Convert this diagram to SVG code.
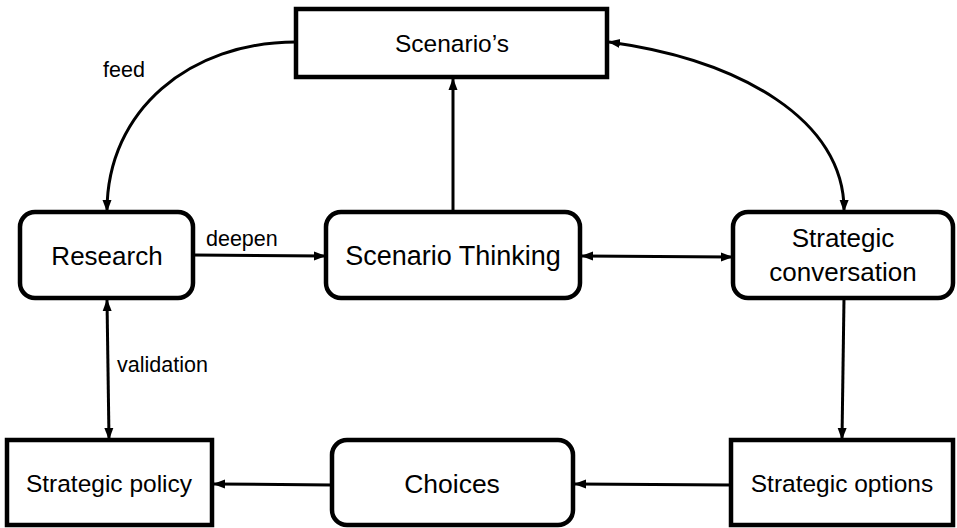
<svg xmlns="http://www.w3.org/2000/svg" width="957" height="528" viewBox="0 0 957 528">
<defs>
<style>
.box{fill:#fff;stroke:#000;stroke-width:4.5}
.t{font-family:"Liberation Sans",Arial,sans-serif;fill:#000;text-anchor:middle}
.lbl{font-family:"Liberation Sans",Arial,sans-serif;fill:#000;font-size:21.5px}
.c{fill:none;stroke:#000;stroke-width:3}
</style>
<marker id="ah" markerUnits="userSpaceOnUse" markerWidth="12" markerHeight="12" viewBox="0 0 12 12" refX="11" refY="6" orient="auto-start-reverse">
<path d="M0,1.5 L12,6 L0,10.5 Z" fill="#000"/>
</marker>
</defs>
<rect width="957" height="528" fill="#fff"/>
<g id="connectors">
<path class="c" d="M296,42 C190,42 107,110 107,211" marker-end="url(#ah)"/>
<path class="c" d="M453,212 L453,79" marker-end="url(#ah)"/>
<path class="c" d="M609,42 C740,60 845,120 844,211" marker-start="url(#ah)" marker-end="url(#ah)"/>
<path class="c" d="M193,255 L325,256" marker-end="url(#ah)"/>
<path class="c" d="M582,256 L732,257" marker-start="url(#ah)" marker-end="url(#ah)"/>
<path class="c" d="M107,300 L109,439" marker-start="url(#ah)" marker-end="url(#ah)"/>
<path class="c" d="M844,298 L842,439" marker-end="url(#ah)"/>
<path class="c" d="M731,485 L575,484" marker-end="url(#ah)"/>
<path class="c" d="M332,485 L214,484" marker-end="url(#ah)"/>
</g>
<g id="scenarios"><rect class="box" x="296" y="9" width="311" height="68"/><text class="t" x="452" y="52" font-size="24.5">Scenario’s</text></g>
<g id="research"><rect class="box" x="20" y="212" width="173" height="86" rx="15"/><text class="t" x="107" y="265" font-size="26">Research</text></g>
<g id="scenario-thinking"><rect class="box" x="326" y="212" width="254" height="86" rx="15"/><text class="t" x="453" y="265" font-size="27">Scenario Thinking</text></g>
<g id="strategic-conversation"><rect class="box" x="733" y="212" width="220" height="86" rx="15"/><text class="t" x="843" y="247" font-size="26">Strategic</text><text class="t" x="843" y="281" font-size="26">conversation</text></g>
<g id="strategic-policy"><rect class="box" x="7" y="440" width="205" height="85"/><text class="t" x="109" y="492" font-size="24.5">Strategic policy</text></g>
<g id="choices"><rect class="box" x="332" y="440" width="241" height="85" rx="15"/><text class="t" x="452" y="493" font-size="26.5">Choices</text></g>
<g id="strategic-options"><rect class="box" x="731" y="440" width="222" height="85"/><text class="t" x="842" y="492" font-size="24.5">Strategic options</text></g>
<text class="lbl" x="103" y="77">feed</text>
<text class="lbl" x="206" y="246">deepen</text>
<text class="lbl" x="117" y="372">validation</text>
</svg>
